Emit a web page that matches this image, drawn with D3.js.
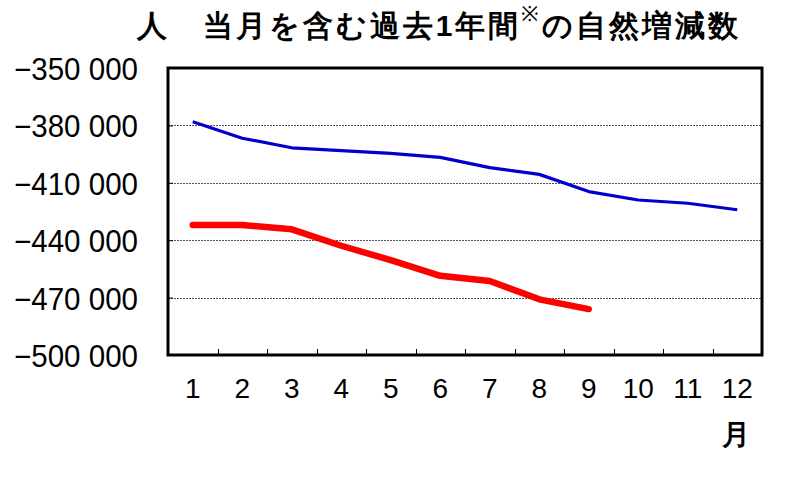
<!DOCTYPE html>
<html><head><meta charset="utf-8">
<script src="https://cdn.jsdelivr.net/npm/d3@7"></script>
<style>
html,body{margin:0;padding:0;background:#fff;}
svg text{font-family:"Liberation Sans",Arial,sans-serif;fill:#000;}
</style></head>
<body><svg id="c" width="786" height="494"></svg>
<script>
const months = ["1","2","3","4","5","6","7","8","9","10","11","12"];
const yTicks = [-350000,-380000,-410000,-440000,-470000,-500000];
const seriesPrev = [-378100,-386700,-391700,-393200,-394600,-396700,-402100,-405600,-414600,-419000,-420700,-424100];
const seriesCurr = [-432100,-432100,-434300,-442900,-450400,-458600,-461300,-470900,-476000];
const title = "人　当月を含む過去1年間";
const titleSup = "※";
const titleRest = "の自然増減数";
const unitX = "月";

const svg = d3.select("#c");
const L=168, R=762, T=68, B=355;
const x = d3.scaleBand().domain(months).range([L,R]);
const y = d3.scaleLinear().domain([-500000,-350000]).range([B,T]);
const fmt = v => (v<0?"\u2212":"") + d3.format(",")(Math.abs(v)).replace(/,/g," ");

// gridlines
svg.append("g").selectAll("line").data(yTicks.filter(v=>v>-500000 && v<-350000)).join("line")
  .attr("x1",L).attr("x2",R).attr("y1",d=>Math.round(y(d))+0.5).attr("y2",d=>Math.round(y(d))+0.5)
  .attr("stroke","#555").attr("stroke-width",1).attr("stroke-dasharray","2,1");

// y axis ticks and labels
const ya = svg.append("g").attr("transform",`translate(${L},0)`)
  .call(d3.axisRight(y).tickValues(yTicks).tickSize(5).tickFormat(""));
ya.select(".domain").remove();
ya.selectAll("line").attr("stroke","#000");
svg.append("g").selectAll("text").data(yTicks).join("text")
  .attr("x",14).attr("y",d=>y(d)+12).attr("text-anchor","start")
  .attr("font-size",31).attr("textLength",124).attr("lengthAdjust","spacingAndGlyphs").text(fmt);

// x axis ticks (band boundaries)
const bounds = months.slice(1).map(m=>x(m));
svg.append("g").selectAll("line").data(bounds).join("line")
  .attr("x1",d=>Math.round(d)+0.5).attr("x2",d=>Math.round(d)+0.5).attr("y1",B).attr("y2",B-6)
  .attr("stroke","#000").attr("stroke-width",1);
svg.append("g").selectAll("text").data(months).join("text")
  .attr("x",d=>x(d)+x.bandwidth()/2).attr("y",398).attr("text-anchor","middle")
  .attr("font-size",28).text(d=>d);
svg.append("text").attr("x",736).attr("y",444).attr("text-anchor","middle")
  .attr("font-family","'Noto Sans CJK JP'").attr("font-weight",700).attr("font-size",28).text(unitX);

// frame
svg.append("rect").attr("x",L).attr("y",T).attr("width",R-L).attr("height",B-T)
  .attr("fill","none").attr("stroke","#000").attr("stroke-width",3);

// lines
const line = d3.line().x((d,i)=>x(months[i])+x.bandwidth()/2).y(d=>y(d));
svg.append("path").datum(seriesPrev).attr("d",line).attr("fill","none")
  .attr("stroke","#0000CC").attr("stroke-width",3.2).attr("stroke-linejoin","round");
svg.append("path").datum(seriesCurr).attr("d",line).attr("fill","none")
  .attr("stroke","#FF0000").attr("stroke-width",6.5).attr("stroke-linejoin","round").attr("stroke-linecap","round");

// title
const t = svg.append("text").attr("x",137).attr("y",36)
  .attr("font-family","'Noto Sans CJK JP'").attr("font-size",30).attr("font-weight",700);
t.append("tspan").text(title);
t.append("tspan").attr("dy",-15).attr("font-size",21).attr("font-weight",400).text(titleSup);
t.append("tspan").attr("dy",15).text(titleRest);
// spread characters to the reference's width
const nat = t.node().getComputedTextLength();
const nChars = (title+titleSup+titleRest).length;
const ls = Math.max(0,(738-137-nat)/(nChars-1));
t.attr("letter-spacing",ls);
</script></body></html>
